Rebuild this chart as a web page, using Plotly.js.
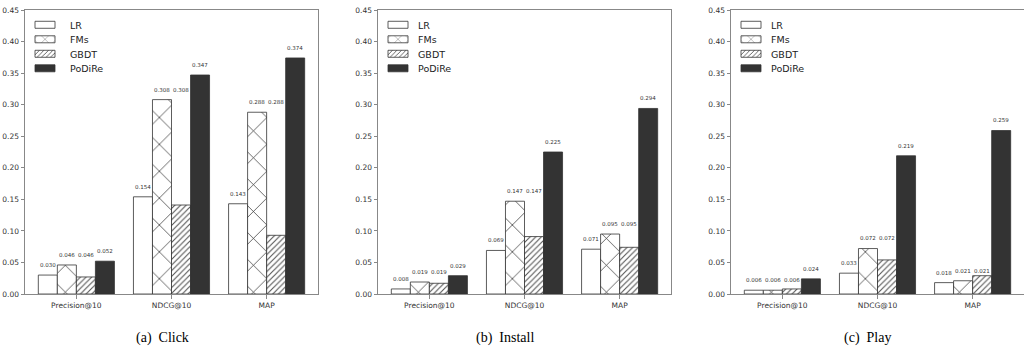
<!DOCTYPE html>
<html>
<head>
<meta charset="utf-8">
<script src="https://cdn.plot.ly/plotly-3.0.1.min.js"></script>
<style>html,body{margin:0;padding:0;background:#fff;}#chart{width:1024px;height:354px;}</style>
</head>
<body>
<div id="chart"></div>
<script>
const categories = ['Precision@10', 'NDCG@10', 'MAP'];
const methods = ['LR', 'FMs', 'GBDT', 'PoDiRe'];
const captions = ['(a)  Click', '(b)  Install', '(c)  Play'];
const yTickVals = [0, 0.05, 0.10, 0.15, 0.20, 0.25, 0.30, 0.35, 0.40, 0.45];
const yTickText = ['0.00', '0.05', '0.10', '0.15', '0.20', '0.25', '0.30', '0.35', '0.40', '0.45'];

const clickLR = [0.030, 0.154, 0.143];
const clickFMs = [0.046, 0.308, 0.288];
const clickGBDT = [0.027, 0.141, 0.093];
const clickPoDiRe = [0.052, 0.347, 0.374];

const installLR = [0.008, 0.069, 0.071];
const installFMs = [0.019, 0.147, 0.095];
const installGBDT = [0.017, 0.091, 0.074];
const installPoDiRe = [0.029, 0.225, 0.294];

const playLR = [0.006, 0.033, 0.018];
const playFMs = [0.006, 0.072, 0.021];
const playGBDT = [0.008, 0.054, 0.029];
const playPoDiRe = [0.024, 0.219, 0.259];

const panels = [
  [clickLR, clickFMs, clickGBDT, clickPoDiRe],
  [installLR, installFMs, installGBDT, installPoDiRe],
  [playLR, playFMs, playGBDT, playPoDiRe]
];

const W = 1024;
const domains = [[25 / W, 318 / W], [378 / W, 671 / W], [731 / W, 1024 / W]];
const captionX = [162 / W, 505 / W, 867 / W];

const edge = '#333333';
const styles = [
  {color: '#ffffff', pattern: {shape: ''}},
  {color: '#ffffff', pattern: {shape: 'x', fgcolor: '#222222', bgcolor: '#ffffff', size: 19, solidity: 0.07, fillmode: 'replace'}},
  {color: '#ffffff', pattern: {shape: '/', fgcolor: '#555555', bgcolor: '#ffffff', size: 4, solidity: 0.28, fillmode: 'replace'}},
  {color: '#333333', pattern: {shape: ''}}
];

const traces = [];
const annotations = [];
const layout = {
  width: 1024, height: 354,
  margin: {l: 0, r: 0, t: 10, b: 60},
  paper_bgcolor: '#ffffff', plot_bgcolor: '#ffffff',
  barmode: 'group', bargap: 0.2, bargroupgap: 0,
  font: {family: 'DejaVu Sans', size: 7.5, color: '#333333'},
  showlegend: true
};

panels.forEach((series, p) => {
  const sfx = p === 0 ? '' : String(p + 1);
  const legendName = 'legend' + sfx;
  series.forEach((vals, k) => {
    traces.push({
      type: 'bar', name: methods[k], x: categories, y: vals,
      xaxis: 'x' + sfx, yaxis: 'y' + sfx,
      legend: legendName,
      marker: {color: styles[k].color, pattern: styles[k].pattern, line: {color: edge, width: 0.8}},
      hoverinfo: 'skip'
    });
  });
  // value labels (third label repeats the FMs value, as in the original figure)
  const labelVals = [series[0], series[1], series[1], series[3]];
  categories.forEach((c, i) => {
    labelVals.forEach((vals, k) => {
      annotations.push({
        xref: 'x' + sfx, yref: 'y' + sfx,
        x: i - 0.3 + 0.2 * k, y: vals[i] + 0.016,
        text: vals[i].toFixed(3), showarrow: false,
        font: {family: 'DejaVu Sans', size: 5.5, color: '#333333'},
        xanchor: 'center', yanchor: 'middle'
      });
    });
  });
  annotations.push({
    xref: 'paper', yref: 'paper', x: captionX[p], y: -0.155,
    text: captions[p], showarrow: false,
    font: {family: 'Liberation Serif', size: 14, color: '#000000'},
    xanchor: 'center', yanchor: 'middle'
  });
  layout['xaxis' + sfx] = {
    domain: domains[p], anchor: 'y' + sfx, type: 'category',
    range: [-0.54, 2.54], showgrid: false, zeroline: false,
    showline: true, linecolor: '#888888', linewidth: 1, mirror: true,
    ticks: 'outside', ticklen: 3.5, tickcolor: '#888888',
    tickfont: {family: 'DejaVu Sans', size: 7.5, color: '#333333'}
  };
  layout['yaxis' + sfx] = {
    domain: [0, 1], anchor: 'x' + sfx,
    range: [0, 0.45], showgrid: false, zeroline: false,
    showline: true, linecolor: '#888888', linewidth: 1, mirror: true,
    ticks: 'outside', ticklen: 3.5, tickcolor: '#888888',
    tickvals: yTickVals, ticktext: yTickText,
    tickfont: {family: 'DejaVu Sans', size: 7.5, color: '#333333'}
  };
  layout[legendName] = {
    x: domains[p][0] + 0 / W, y: 0.999, xanchor: 'left', yanchor: 'top',
    bgcolor: 'rgba(255,255,255,0)', borderwidth: 0,
    font: {family: 'DejaVu Sans', size: 9.5, color: '#222222'},
    tracegroupgap: 0, itemwidth: 30, traceorder: 'normal'
  };
});
layout.annotations = annotations;

Plotly.newPlot('chart', traces, layout, {displayModeBar: false, staticPlot: true}).then(() => {
  // compact matplotlib-like legend: wide flat swatches, tighter rows
  const groups = new Map();
  document.querySelectorAll('g.traces').forEach(it => {
    const par = it.parentNode;
    if (!groups.has(par)) groups.set(par, []);
    groups.get(par).push(it);
  });
  groups.forEach(items => {
    let x0 = 0, y0 = 0;
    items.forEach((it, i) => {
      const t = it.getAttribute('transform') || '';
      const m = /translate\(\s*([-\d.e]+)[\s,]+([-\d.e]+)\s*\)/.exec(t);
      if (i === 0 && m) { x0 = parseFloat(m[1]); y0 = parseFloat(m[2]); }
      it.setAttribute('transform', 'translate(' + x0 + ',' + (y0 + 14.5 * i) + ')');
      it.querySelectorAll('.legendpoints path').forEach(pth => pth.setAttribute('d', 'M10,3.5H-10V-3.5H10Z'));
      const txt = it.querySelector('text.legendtext');
      if (txt) {
        const tx = parseFloat(txt.getAttribute('x') || '0');
        txt.setAttribute('x', tx + 5);
      }
    });
  });
});
</script>
</body>
</html>
